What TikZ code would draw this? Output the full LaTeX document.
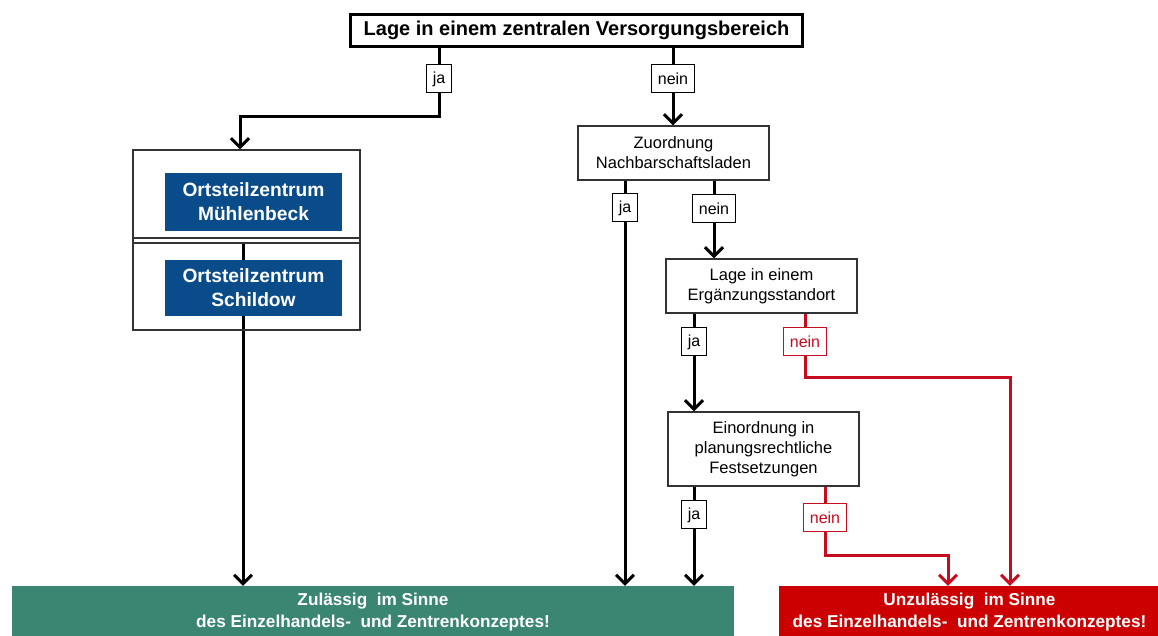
\documentclass[tikz,border=0pt]{standalone}
\usepackage{fontspec}
\setmainfont{Liberation Sans}
\usetikzlibrary{arrows.meta,backgrounds}
\definecolor{zentrumblau}{RGB}{10,76,138}
\definecolor{okgruen}{RGB}{59,134,114}
\definecolor{neinrot}{RGB}{204,0,0}
\definecolor{linierot}{RGB}{200,12,32}
\tikzset{
  titlebox/.style={draw, line width=1.5pt, minimum width=226pt, minimum height=16pt,
    font=\fontsize{10}{12}\selectfont\bfseries},
  qbox/.style={draw=black!80, line width=0.7pt, fill=white, minimum width=95.5pt,
    align=center, font=\fontsize{8.25}{10}\selectfont},
  zbox/.style={fill=zentrumblau, text=white, minimum width=88.5pt, align=center,
    font=\fontsize{9.6}{12}\selectfont\bfseries},
  lbl/.style={draw, line width=0.5pt, fill=white, minimum height=14pt, inner xsep=3pt,
    inner ysep=0pt, font=\fontsize{8}{9}\selectfont},
  lblrot/.style={lbl, draw=linierot, text=linierot},
  ergebnis/.style={minimum height=25pt, align=center, text=white,
    font=\fontsize{8.6}{11}\selectfont\bfseries},
  flow/.style={line width=1.5pt, -{Straight Barb[length=4.5pt,width=9pt]}},
  flowrot/.style={flow, draw=linierot},
  linie/.style={line width=1.5pt},
  linierot/.style={linie, draw=linierot}
}
\begin{document}
\begin{tikzpicture}[x=0.5pt, y=-0.5pt]
  \useasboundingbox (0,0) rectangle (1158,636);

  % Fragen
  \node[titlebox] (lage) at (576.5,30.5) {Lage in einem zentralen Versorgungsbereich};
  \node[qbox, minimum height=27pt] (zuordnung) at (673.5,153) {Zuordnung\\Nachbarschaftsladen};
  \node[qbox, minimum height=27pt] (ergaenzung) at (761.5,286) {Lage in einem\\Ergänzungsstandort};
  \node[qbox, minimum height=37pt] (einordnung) at (763.5,449) {Einordnung in\\planungsrechtliche\\Festsetzungen};

  % Zentren
  \node[draw=black!80, line width=0.7pt, minimum width=113.5pt, minimum height=90pt] (zentren) at (246.5,240) {};
  \draw[black!80, line width=0.7pt] (zentren.west |- 0,238) -- (zentren.east |- 0,238);
  \draw[black!80, line width=0.7pt] (zentren.west |- 0,243) -- (zentren.east |- 0,243);
  \node[zbox, minimum height=29pt] (muehlenbeck) at (253.5,202) {Ortsteilzentrum\\Mühlenbeck};
  \node[zbox, minimum height=28pt] (schildow) at (253.5,288) {Ortsteilzentrum\\Schildow};

  % Ergebnisse
  \node[ergebnis, fill=okgruen, minimum width=361pt] (zulaessig) at (373,612)
    {Zulässig\ \ im Sinne\\des Einzelhandels-\ \ und Zentrenkonzeptes!};
  \node[ergebnis, fill=neinrot, minimum width=190.5pt] (unzulaessig) at (969.5,612)
    {Unzulässig\ \ im Sinne\\des Einzelhandels-\ \ und Zentrenkonzeptes!};

  % Antworten
  \node[lbl] (ja1) at (439,79) {ja};
  \node[lbl] (nein1) at (673,79) {nein};
  \node[lbl] (ja2) at (625,208) {ja};
  \node[lbl] (nein2) at (714,209) {nein};
  \node[lbl] (ja3) at (694,342) {ja};
  \node[lblrot] (nein3) at (805,342) {nein};
  \node[lbl] (ja4) at (694,515) {ja};
  \node[lblrot] (nein4) at (825,518) {nein};

  \coordinate (knick1) at (240,117);
  \coordinate (knick3) at (1010,378);
  \coordinate (knick4) at (948,555);
  \coordinate (zweig) at (243,244);

  % Verbindungen
  \draw[linie] (lage.south -| ja1) -- (ja1.north);
  \draw[flow] (ja1.south) |- (knick1) -- (zentren.north -| knick1);
  \draw[linie] (lage.south -| nein1) -- (nein1.north);
  \draw[flow] (nein1.south) -- (zuordnung.north -| nein1);
  \begin{scope}[on background layer]
    \draw[flow] (zweig) -- (zulaessig.north -| zweig);
  \end{scope}
  \draw[linie] (zuordnung.south -| ja2) -- (ja2.north);
  \draw[flow] (ja2.south) -- (zulaessig.north -| ja2);
  \draw[linie] (zuordnung.south -| nein2) -- (nein2.north);
  \draw[flow] (nein2.south) -- (ergaenzung.north -| nein2);
  \draw[linie] (ergaenzung.south -| ja3) -- (ja3.north);
  \draw[flow] (ja3.south) -- (einordnung.north -| ja3);
  \draw[linierot] (ergaenzung.south -| nein3) -- (nein3.north);
  \draw[flowrot] (nein3.south) |- (knick3) -- (unzulaessig.north -| knick3);
  \draw[linie] (einordnung.south -| ja4) -- (ja4.north);
  \draw[flow] (ja4.south) -- (zulaessig.north -| ja4);
  \draw[linierot] (einordnung.south -| nein4) -- (nein4.north);
  \draw[flowrot] (nein4.south) |- (knick4) -- (unzulaessig.north -| knick4);
\end{tikzpicture}
\end{document}
